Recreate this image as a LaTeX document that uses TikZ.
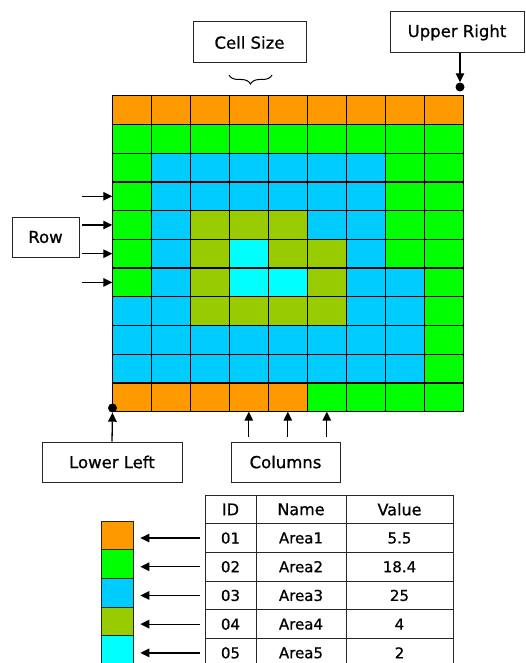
\documentclass[tikz,border=0pt]{standalone}
\usepackage{fontspec}
\setmainfont{DejaVu Sans}[RawFeature={embolden=0.8}]
\usetikzlibrary{arrows.meta,decorations.pathreplacing,calc}
\definecolor{cO}{HTML}{FF9900}
\definecolor{cG}{HTML}{00FF00}
\definecolor{cB}{HTML}{00CCFF}
\definecolor{cY}{HTML}{99CC00}
\definecolor{cC}{HTML}{00FFFF}
\begin{document}
\begin{tikzpicture}[x=1pt,y=-1pt,
  cell/.style={draw=black, line width=1.3pt, minimum width=39pt, minimum height=28.73pt, inner sep=0pt, outer sep=0pt, anchor=north west},
  lbl/.style={draw=black!85, line width=1pt, inner sep=0pt, font=\fontsize{16.5}{20}\selectfont},
  tcell/.style={draw=black!85, line width=1pt, inner sep=0pt, outer sep=0pt, minimum height=28.7pt, anchor=north west, font=\fontsize{15}{18}\selectfont},
  thead/.style={tcell, font=\fontsize{16}{19}\selectfont},
  lcell/.style={draw=black!85, line width=1pt, inner sep=0pt, outer sep=0pt, minimum width=31.6pt, minimum height=28.7pt, anchor=north west},
  arr/.style={-{Triangle[length=9pt,width=8.5pt]}, line width=1.3pt},
  blackdot/.style={circle, fill=black, inner sep=0pt, minimum size=9pt}]
\useasboundingbox (0,0) rectangle (526,663);
\clip (0,0) rectangle (526,663);

% grid
\foreach \row [count=\r from 0] in {
  {cO,cO,cO,cO,cO,cO,cO,cO,cO},
  {cG,cG,cG,cG,cG,cG,cG,cG,cG},
  {cG,cB,cB,cB,cB,cB,cB,cG,cG},
  {cG,cB,cB,cB,cB,cB,cB,cG,cG},
  {cG,cB,cY,cY,cY,cB,cB,cG,cG},
  {cG,cB,cY,cC,cY,cY,cB,cG,cG},
  {cG,cB,cY,cC,cC,cY,cB,cB,cG},
  {cB,cB,cY,cY,cY,cY,cB,cB,cG},
  {cB,cB,cB,cB,cB,cB,cB,cB,cG},
  {cB,cB,cB,cB,cB,cB,cB,cB,cG},
  {cO,cO,cO,cO,cO,cG,cG,cG,cG}} {
  \foreach \col [count=\c from 0] in \row {
    \node[cell, fill=\col] (c-\r-\c) at ({112.3+39*\c},{95.7+28.73*\r}) {};
  }
}

% label boxes
\node[lbl, minimum width=113pt, minimum height=41pt] (cellsize) at (249.5,42.5) {Cell Size};
\node[lbl, minimum width=134pt, minimum height=41pt] (upright) at (457,32.5) {Upper Right};
\node[lbl, minimum width=67pt, minimum height=40pt] (rowbox) at (45.5,237) {Row};
\node[lbl, minimum width=140pt, minimum height=40pt] (lowleft) at (112,462) {Lower Left};
\node[lbl, minimum width=109pt, minimum height=40pt] (colbox) at (285.5,462) {Columns};

% corner dots
\node[blackdot] (urdot) at (460,87) {};
\node[blackdot] (lldot) at (112.5,408) {};
\draw[arr] (urdot |- upright.south) -- (urdot.north);
\draw[arr] (lowleft.north) -- (lldot.south);

% brace for cell size
\draw[decorate, decoration={brace, mirror, amplitude=9pt}, line width=1pt] (229,75) -- (272,75);

% row arrows
\foreach \r in {3,4,5,6} {
  \coordinate (ra\r) at ($(c-\r-0.west)+(-30,0)$);
  \draw[arr] (ra\r) -- (c-\r-0.west);
}
% column arrows
\foreach \c in {3,4,5} {
  \coordinate (ca\c) at ($(c-10-\c.south)+(0,25)$);
  \draw[arr] (ca\c) -- (c-10-\c.south);
}

% table
\node[thead, minimum width=51pt] (t-0-0) at (205,495) {ID};
\node[thead, minimum width=90pt] (t-0-1) at (256,495) {Name};
\node[thead, minimum width=107pt] (t-0-2) at (346,495) {Value};
\foreach \r/\a/\b/\v in {1/01/Area1/5.5,2/02/Area2/18.4,3/03/Area3/25,4/04/Area4/4,5/05/Area5/2} {
  \node[tcell, minimum width=51pt] (t-\r-0) at (205,{495+28.7*\r}) {\a};
  \node[tcell, minimum width=90pt] (t-\r-1) at (256,{495+28.7*\r}) {\b};
  \node[tcell, minimum width=107pt] (t-\r-2) at (346,{495+28.7*\r}) {\v};
}

% legend
\foreach \i/\col in {1/cO,2/cG,3/cB,4/cY,5/cC} {
  \node[lcell, fill=\col] (l-\i) at (101.7,{521+28.7*(\i-1)}) {};
  \draw[arr] ($(t-\i-0.west)+(-5,0)$) -- ($(t-\i-0.west -| l-\i.east)+(7,0)$);
}
\end{tikzpicture}
\end{document}
